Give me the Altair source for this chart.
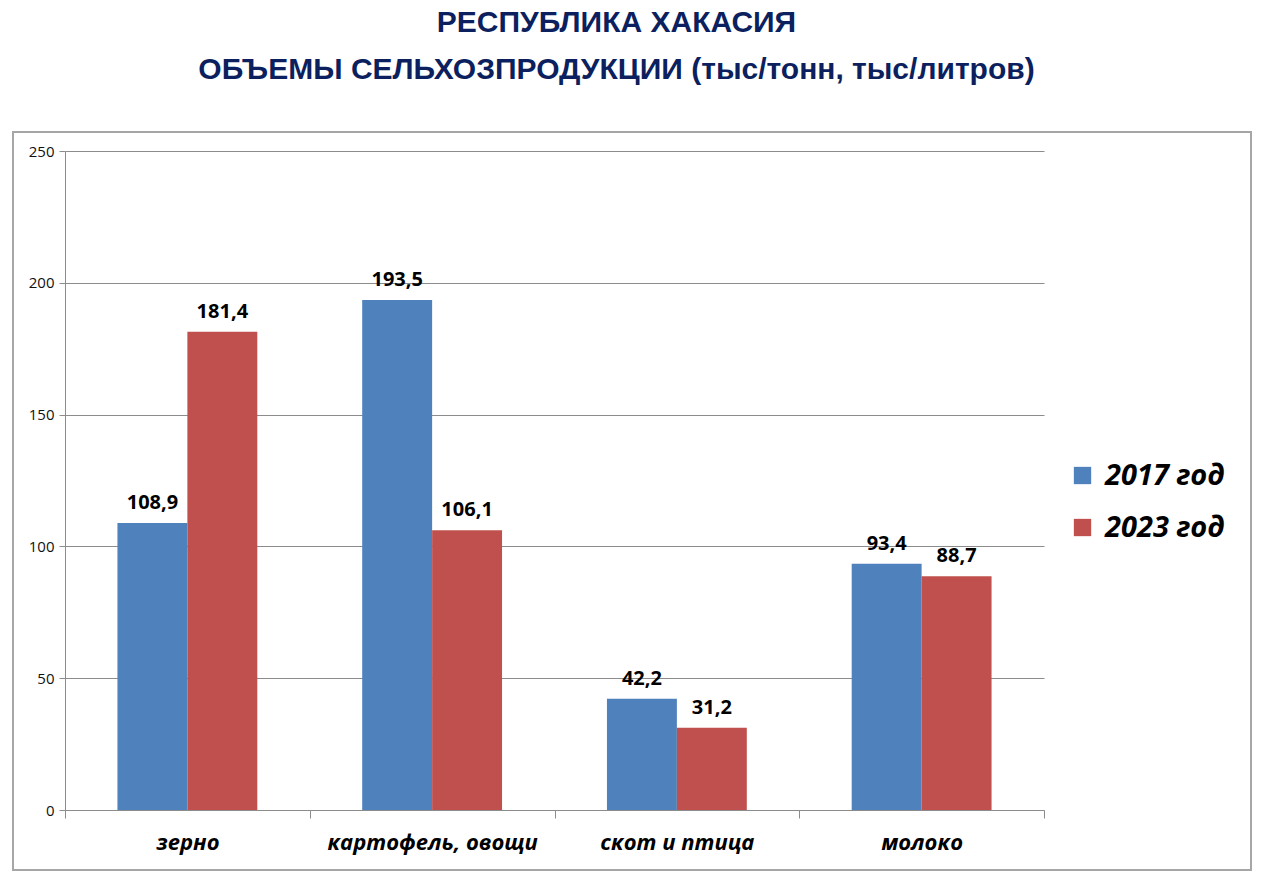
import altair as alt
import pandas as pd

categories = ["зерно", "картофель, овощи", "скот и птица", "молоко"]
series = ["2017 год", "2023 год"]
values_2017 = [108.9, 193.5, 42.2, 93.4]
values_2023 = [181.4, 106.1, 31.2, 88.7]
y_ticks = [0, 50, 100, 150, 200, 250]

rows = []
for c, a, b in zip(categories, values_2017, values_2023):
    rows.append({"cat": c, "year": series[0], "v": a})
    rows.append({"cat": c, "year": series[1], "v": b})
df = pd.DataFrame(rows)

colors = ["#4f81bd", "#c0504d"]

base = alt.Chart(df).encode(
    x=alt.X("cat:N", sort=categories, title=None,
            scale=alt.Scale(paddingInner=0, paddingOuter=0),
            axis=alt.Axis(labelAngle=0, tickBand="extent", tickSize=8, tickColor="#8c8c8c",
                          domainColor="#8c8c8c", labelFont="Open Sans", labelFontSize=22,
                          labelFontStyle="italic", labelFontWeight="bold", labelColor="#000000",
                          labelPadding=14, labelLimit=400, grid=False)),
    xOffset=alt.XOffset("year:N", sort=series,
                        scale=alt.Scale(paddingOuter=0.75, paddingInner=0)),
)

bars = base.mark_bar().encode(
    y=alt.Y("v:Q", title=None,
            scale=alt.Scale(domain=[0, 250], nice=False),
            axis=alt.Axis(values=y_ticks, tickSize=6, tickColor="#8c8c8c", domainColor="#8c8c8c",
                          gridColor="#8c8c8c", gridWidth=1, labelFont="Open Sans",
                          labelFontSize=15, labelColor="#111111", labelPadding=5)),
    color=alt.Color("year:N", sort=series, scale=alt.Scale(domain=series, range=colors),
                    legend=alt.Legend(title=None, orient="none", legendX=1003, legendY=310,
                                      symbolType="square", symbolSize=300, symbolStrokeWidth=0,
                                      labelFont="Open Sans", labelFontSize=29,
                                      labelFontStyle="italic", labelFontWeight="bold",
                                      labelColor="#000000", rowPadding=22, labelOffset=8,
                                      labelLimit=300)),
)

labels = base.mark_text(baseline="bottom", dy=-10, font="Open Sans", fontSize=20,
                        fontWeight="bold", color="#000000").transform_calculate(
    lab="replace(format(datum.v, '.1f'), '.', ',')"
).encode(y="v:Q", text="lab:N")

frame = alt.Chart(df).mark_rect(fill=None, stroke="#a6a6a6", strokeWidth=2).encode(
    x=alt.value(-52), x2=alt.value(1186), y=alt.value(-19), y2=alt.value(719)
)

chart = alt.layer(frame, bars, labels).properties(
    width=979, height=659,
    autosize=alt.AutoSizeParams(type="none"),
    padding={"left": 65, "top": 151, "right": 236, "bottom": 73},
    title=alt.TitleParams(
        text=["РЕСПУБЛИКА ХАКАСИЯ", "ОБЪЕМЫ СЕЛЬХОЗПРОДУКЦИИ (тыс/тонн, тыс/литров)"],
        anchor="middle", dx=62, font="Liberation Sans", fontSize=30,
        fontWeight="bold", color="#0c1f5e", lineHeight=47, offset=46,
    ),
).configure_view(stroke=None)

chart.save("out.html", embed_options={"renderer": "svg", "actions": False})
